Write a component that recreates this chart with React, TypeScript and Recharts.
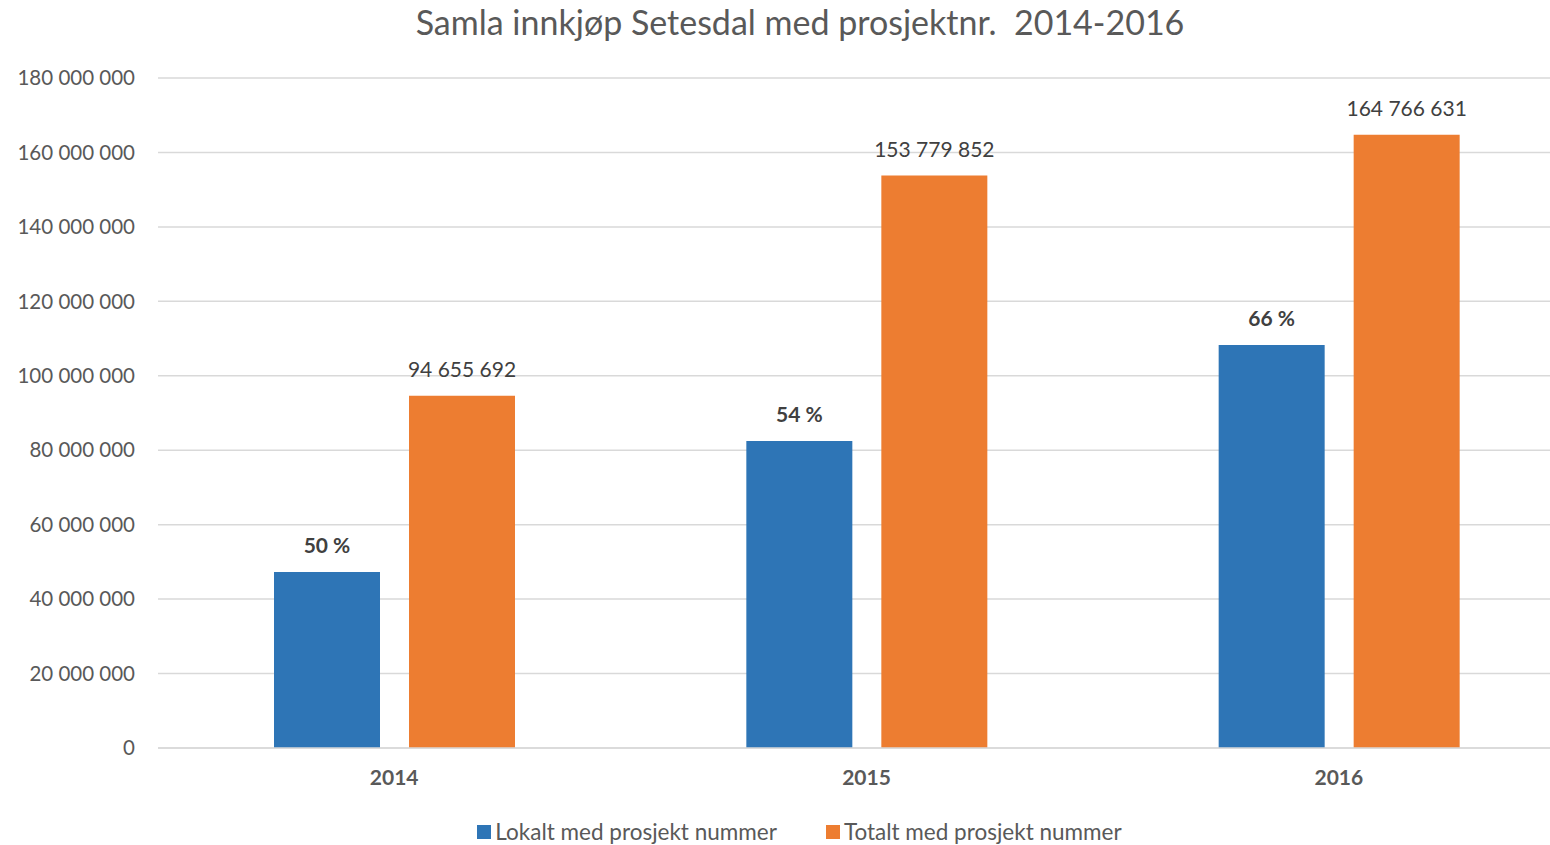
import React from "react";
import {
  Bar,
  BarChart,
  CartesianGrid,
  LabelList,
  Legend,
  XAxis,
  YAxis,
} from "recharts";

const years = ["2014", "2015", "2016"];
const lokalt = [47300000, 82500000, 108300000];
const totalt = [94655692, 153779852, 164766631];
const lokaltPct = ["50 %", "54 %", "66 %"];
const yTicks = [0, 20000000, 40000000, 60000000, 80000000, 100000000, 120000000, 140000000, 160000000, 180000000];

const data = years.map((year, i) => ({
  year,
  lokalt: lokalt[i],
  totalt: totalt[i],
  pct: lokaltPct[i],
}));

const FONT = "Lato, 'Open Sans', sans-serif";

function spaced(v: number | string) {
  return String(v).replace(/\B(?=(\d{3})+(?!\d))/g, " ");
}

function LegendContent(props: any) {
  const items = props.payload || [];
  return (
    <div style={{ display: "flex", justifyContent: "center", gap: 49, paddingLeft: 24 }}>
      {items.map((item: any) => (
        <div
          key={item.value}
          style={{ display: "flex", alignItems: "center", fontSize: 22.5, color: "#595959" }}
        >
          <span
            style={{
              display: "inline-block",
              width: 14,
              height: 14,
              background: item.color,
              marginRight: 4,
            }}
          />
          {item.value}
        </div>
      ))}
    </div>
  );
}

export default function App() {
  return (
    <div
      style={{
        position: "fixed",
        left: 0,
        top: 0,
        width: 1550,
        height: 845,
        overflow: "hidden",
        background: "#fff",
        fontFamily: FONT,
      }}
    >
      <div
        style={{
          position: "absolute",
          left: 0,
          top: 1,
          width: 1600,
          textAlign: "center",
          fontSize: 34,
          color: "#595959",
          whiteSpace: "pre",
        }}
      >
        {"Samla innkjøp Setesdal med prosjektnr.  2014-2016"}
      </div>
      <BarChart
        width={1600}
        height={845}
        data={data}
        margin={{ top: 78, right: 25, left: 0, bottom: 0 }}
        barSize={106}
        barGap={29}
      >
        <CartesianGrid vertical={false} stroke="#D9D9D9" strokeWidth={1.5} />
        <XAxis
          dataKey="year"
          height={70}
          tickLine={false}
          axisLine={{ stroke: "#D9D9D9", strokeWidth: 1.5 }}
          tickSize={0}
          tickMargin={22}
          tick={{ fill: "#595959", fontSize: 21, fontWeight: 700, fontFamily: FONT }}
        />
        <YAxis
          width={158}
          domain={[0, 180000000]}
          ticks={yTicks}
          interval={0}
          tickLine={false}
          axisLine={false}
          tickSize={0}
          tickMargin={23}
          tickFormatter={spaced}
          tick={{ fill: "#595959", fontSize: 20.5, fontFamily: FONT }}
        />
        <Legend
          verticalAlign="bottom"
          content={<LegendContent />}
          wrapperStyle={{ fontFamily: FONT, paddingBottom: 0 }}
        />
        <Bar
          dataKey="lokalt"
          name="Lokalt med prosjekt nummer"
          fill="#2E75B6"
          isAnimationActive={false}
        >
          <LabelList
            dataKey="pct"
            position="top"
            offset={19}
            fill="#404040"
            fontSize={21}
            fontWeight={700}
            fontFamily={FONT}
          />
        </Bar>
        <Bar
          dataKey="totalt"
          name="Totalt med prosjekt nummer"
          fill="#ED7D31"
          isAnimationActive={false}
        >
          <LabelList
            dataKey="totalt"
            position="top"
            offset={19}
            fill="#404040"
            fontSize={21}
            fontFamily={FONT}
            formatter={spaced}
          />
        </Bar>
      </BarChart>
    </div>
  );
}
